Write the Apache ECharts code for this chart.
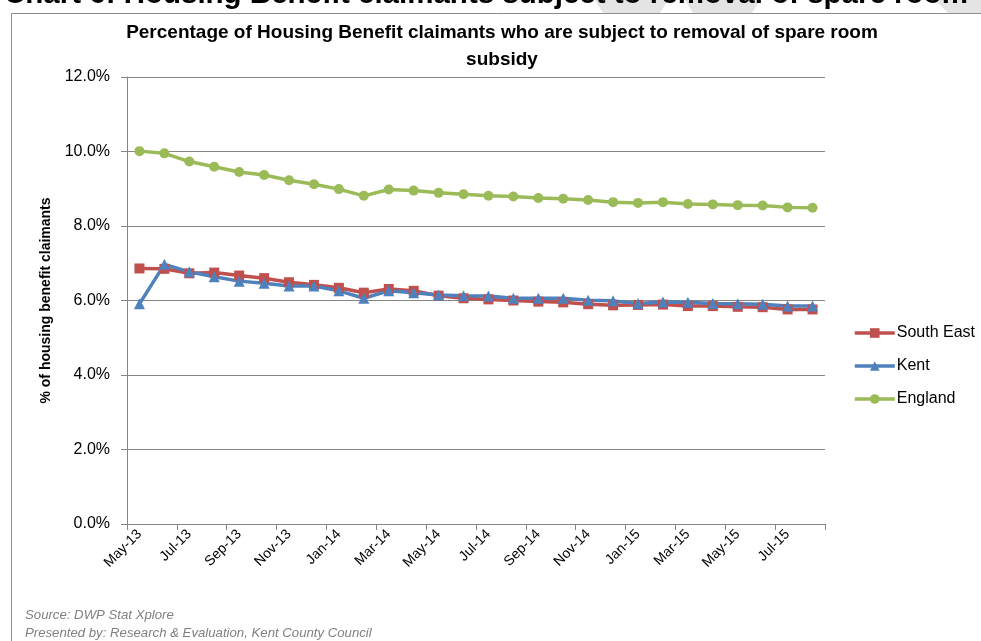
<!DOCTYPE html>
<html>
<head>
<meta charset="utf-8">
<script src="https://cdn.jsdelivr.net/npm/echarts@6/dist/echarts.min.js"></script>
<style>
  html, body { margin: 0; padding: 0; background: #fff; }
  #chart { width: 981px; height: 641px; }
</style>
</head>
<body>
<div id="chart"></div>
<script>
// Monthly categories, May-13 to Aug-15
const months = ['May-13','Jun-13','Jul-13','Aug-13','Sep-13','Oct-13','Nov-13','Dec-13',
  'Jan-14','Feb-14','Mar-14','Apr-14','May-14','Jun-14','Jul-14','Aug-14','Sep-14','Oct-14',
  'Nov-14','Dec-14','Jan-15','Feb-15','Mar-15','Apr-15','May-15','Jun-15','Jul-15','Aug-15'];

// Share of Housing Benefit claimants subject to removal of spare room subsidy (%)
const southEast = [6.86, 6.85, 6.73, 6.75, 6.67, 6.60, 6.49, 6.42, 6.34, 6.21, 6.31, 6.26, 6.13, 6.06,
  6.03, 6.00, 5.97, 5.95, 5.90, 5.87, 5.88, 5.89, 5.85, 5.85, 5.83, 5.82, 5.76, 5.76];
const kent = [5.91, 6.97, 6.77, 6.64, 6.52, 6.46, 6.39, 6.39, 6.26, 6.06, 6.26, 6.21, 6.15, 6.13,
  6.12, 6.06, 6.06, 6.06, 6.01, 5.99, 5.92, 5.96, 5.95, 5.92, 5.91, 5.90, 5.85, 5.85];
const england = [10.01, 9.95, 9.73, 9.59, 9.45, 9.37, 9.23, 9.12, 8.99, 8.81, 8.98, 8.95, 8.89, 8.85,
  8.81, 8.79, 8.75, 8.73, 8.70, 8.64, 8.62, 8.64, 8.59, 8.58, 8.56, 8.55, 8.50, 8.49];

const yTicks = { min: 0, max: 12, interval: 2 };

const FONT = '"Liberation Sans", Arial, sans-serif';
const chart = echarts.init(document.getElementById('chart'), null, { renderer: 'canvas' });

const mkSeries = (name, data, color, symbol, size) => ({
  name, type: 'line', data, symbol, symbolSize: size,
  lineStyle: { color, width: 3.5 },
  itemStyle: { color },
  z: 3
});

chart.setOption({
  animation: false,
  backgroundColor: '#fff',
  textStyle: { fontFamily: FONT },
  graphic: [
    // faint background shapes behind the page header
    { type: 'polygon', shape: { points: [[595,0],[668,0],[660,13],[603,13]] }, style: { fill: '#e4e4e4' }, z: 0 },
    { type: 'polygon', shape: { points: [[685,0],[760,0],[752,13],[693,13]] }, style: { fill: '#e4e4e4' }, z: 0 },
    { type: 'polygon', shape: { points: [[935,0],[981,0],[981,13],[948,13]] }, style: { fill: '#e4e4e4' }, z: 0 },
    // page header (runs off the top edge)
    { type: 'text', left: 4, top: -20, z: 1,
      style: { text: 'Chart 6: Housing Benefit claimants subject to removal of spare room',
        font: 'bold 29.5px ' + FONT, fill: '#000' } },
    // chart frame
    { type: 'polyline', shape: { points: [[11.5,641],[11.5,13.5],[981,13.5]] },
      style: { stroke: '#8c8c8c', lineWidth: 1, fill: null }, z: 1 },
    // chart title
    { type: 'text', x: 502, y: 33, z: 2,
      style: { text: 'Percentage of Housing Benefit claimants who are subject to removal of spare room',
        font: 'bold 19px ' + FONT, fill: '#000', align: 'center', verticalAlign: 'middle' } },
    { type: 'text', x: 502, y: 60, z: 2,
      style: { text: 'subsidy',
        font: 'bold 19px ' + FONT, fill: '#000', align: 'center', verticalAlign: 'middle' } },
    // source notes
    { type: 'text', x: 25, y: 615, z: 2,
      style: { text: 'Source: DWP Stat Xplore', font: 'italic 13.2px ' + FONT, fill: '#808080', verticalAlign: 'middle' } },
    { type: 'text', x: 25, y: 633, z: 2,
      style: { text: 'Presented by: Research & Evaluation, Kent County Council', font: 'italic 13.2px ' + FONT, fill: '#808080', verticalAlign: 'middle' } }
  ],
  legend: {
    orient: 'vertical',
    left: 853, top: 325,
    padding: 0,
    itemGap: 17,
    itemWidth: 40, itemHeight: 12,
    lineStyle: { width: 3.5 },
    textStyle: { fontSize: 16, color: '#000', padding: [0, 0, 0, -3] },
    data: ['South East', 'Kent', 'England']
  },
  grid: { left: 127, right: 156, top: 77, bottom: 117, containLabel: false },
  xAxis: {
    type: 'category',
    data: months,
    boundaryGap: true,
    axisLine: { lineStyle: { color: '#868686', width: 1 } },
    axisTick: { show: true, interval: 1, length: 6, lineStyle: { color: '#868686' } },
    axisLabel: { interval: 1, rotate: 45, fontSize: 14, color: '#000', margin: 8 },
    splitLine: { show: false }
  },
  yAxis: {
    type: 'value',
    min: yTicks.min, max: yTicks.max, interval: yTicks.interval,
    name: '% of housing benefit claimants',
    nameLocation: 'middle', nameGap: 74,
    nameTextStyle: { fontSize: 14, fontWeight: 'bold', color: '#000' },
    axisLine: { show: true, lineStyle: { color: '#868686' } },
    axisTick: { show: true, length: 6, lineStyle: { color: '#868686' } },
    axisLabel: { fontSize: 16, color: '#000', margin: 17, formatter: v => v.toFixed(1) + '%' },
    splitLine: { lineStyle: { color: '#868686', width: 1 } }
  },
  series: [
    mkSeries('South East', southEast, '#C0504D', 'rect', 10),
    mkSeries('Kent', kent, '#4F81BD', 'triangle', 11),
    mkSeries('England', england, '#9BBB59', 'circle', 10)
  ]
});
</script>
</body>
</html>
